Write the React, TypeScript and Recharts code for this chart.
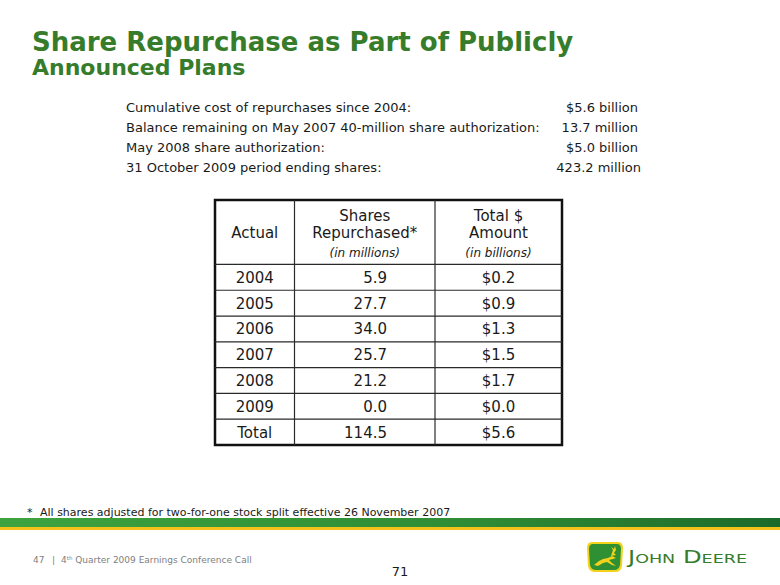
import React from 'react';
import { ScatterChart, Scatter, XAxis, YAxis, ReferenceLine, ReferenceArea } from 'recharts';

// ---- data ----
const years = ['2004', '2005', '2006', '2007', '2008', '2009', 'Total'];
const sharesRepurchased = [5.9, 27.7, 34.0, 25.7, 21.2, 0.0, 114.5];
const totalAmount = [0.2, 0.9, 1.3, 1.5, 1.7, 0.0, 5.6];

const headerLines = [
  { col: 0, line: 1, text: 'Actual', italic: false },
  { col: 1, line: 0, text: 'Shares', italic: false },
  { col: 1, line: 1, text: 'Repurchased*', italic: false },
  { col: 1, line: 2, text: '(in millions)', italic: true },
  { col: 2, line: 0, text: 'Total $', italic: false },
  { col: 2, line: 1, text: 'Amount', italic: false },
  { col: 2, line: 2, text: '(in billions)', italic: true },
];

const summaryLabels = [
  'Cumulative cost of repurchases since 2004:',
  'Balance remaining on May 2007 40-million share authorization:',
  'May 2008 share authorization:',
  '31 October 2009 period ending shares:',
];
const summaryValues = ['$5.6 billion', '13.7 million', '$5.0 billion', '423.2 million'];

// ---- layout (not data) ----
const FONT = '"DejaVu Sans", Verdana, sans-serif';
const GREEN = '#367C2B';
const TABLE_W = 347; // x units
const COL_BOUNDS = [0, 79.5, 220, TABLE_W];
const COL_ANCHOR = [39.75, 172, 283.5];
const COL_TEXT_ANCHOR: ('middle' | 'end')[] = ['middle', 'end', 'middle'];
const HEADER_ROWS = 2.5;
const TOTAL_ROWS = HEADER_ROWS + years.length;
const HEADER_LINE_Y = [0.62, 1.28, 2.05];

type Cell = { x: number; y: number; text: string; anchor: 'middle' | 'end'; italic: boolean; size: number };

const bodyCells: Cell[] = years.flatMap((yr, i) => {
  const rowY = HEADER_ROWS + i + 0.5;
  return [
    { x: COL_ANCHOR[0], y: rowY, text: yr, anchor: COL_TEXT_ANCHOR[0], italic: false, size: 15 },
    { x: COL_ANCHOR[1], y: rowY, text: sharesRepurchased[i].toFixed(1), anchor: COL_TEXT_ANCHOR[1], italic: false, size: 15 },
    { x: COL_ANCHOR[2], y: rowY, text: '$' + totalAmount[i].toFixed(1), anchor: COL_TEXT_ANCHOR[2], italic: false, size: 15 },
  ];
});

const headerCells: Cell[] = headerLines.map((h) => ({
  x: h.col === 0 ? COL_ANCHOR[0] : (COL_BOUNDS[h.col] + COL_BOUNDS[h.col + 1]) / 2,
  y: HEADER_LINE_Y[h.line],
  text: h.text,
  anchor: 'middle',
  italic: h.italic,
  size: h.italic ? 12 : 15,
}));

const CellText = (props: any) => {
  const { cx, cy, payload } = props;
  if (cx == null || cy == null) return null;
  const p = payload as Cell;
  return (
    <text
      x={cx}
      y={cy + p.size * 0.36}
      textAnchor={p.anchor}
      fontFamily={FONT}
      fontSize={p.size}
      fontStyle={p.italic ? 'italic' : 'normal'}
      fill="#1a1a1a"
    >
      {p.text}
    </text>
  );
};

const rowBoundaries = Array.from({ length: years.length }, (_, i) => HEADER_ROWS + i);

const Table = () => (
  <ScatterChart width={351} height={249} margin={{ top: 2, right: 2, bottom: 2, left: 2 }}>
    <XAxis type="number" dataKey="x" domain={[0, TABLE_W]} hide allowDataOverflow />
    <YAxis type="number" dataKey="y" domain={[0, TOTAL_ROWS]} hide reversed allowDataOverflow />
    <ReferenceArea x1={0} x2={TABLE_W} y1={0} y2={TOTAL_ROWS} fill="#ffffff" fillOpacity={1} stroke="none" />
    {rowBoundaries.map((b) => (
      <ReferenceLine key={'h' + b} y={b} stroke="#2a2a2a" strokeWidth={1.2} />
    ))}
    {COL_BOUNDS.slice(1, -1).map((b) => (
      <ReferenceLine key={'v' + b} x={b} stroke="#2a2a2a" strokeWidth={1.2} />
    ))}
    <ReferenceArea x1={0} x2={TABLE_W} y1={0} y2={TOTAL_ROWS} fill="none" stroke="#111" strokeWidth={2.5} />
    <Scatter data={headerCells} shape={CellText} isAnimationActive={false} />
    <Scatter data={bodyCells} shape={CellText} isAnimationActive={false} />
  </ScatterChart>
);

const Deer = () => (
  <g>
    <defs>
      <linearGradient id="jdbar" x1="0" x2="1" y1="0" y2="0">
        <stop offset="0" stopColor="#3da33f" />
        <stop offset="0.6" stopColor="#2f8c35" />
        <stop offset="1" stopColor="#1c6a2a" />
      </linearGradient>
    </defs>
    <path d="M592,542 L618,542 Q623,542 623,548 L622,566 Q621,572 615,572 L595,572 Q589,572 588,566 L587,548 Q587,542 592,542 Z" fill="#f2d21b" />
    <path d="M593,544 L617,544 Q621,544 621,549 L620,565 Q619,570 614,570 L596,570 Q591,570 590,565 L589,549 Q589,544 593,544 Z" fill="#2f8f33" />
    <path d="M594,565 L599,561 L603,559 L608,558 L612,556 L616,558 L613,559 L609,560 L612,563 L616,566 L612,565 L607,562 L603,563 L598,566 Z" fill="#f2d21b" />
    <path d="M611,556 L613,550 L611,547 L614,549 L615,546 L616,550 L614,553 L616,555 Z" fill="#f2d21b" />
  </g>
);

export default function App() {
  return (
    <div style={{ position: 'absolute', left: 0, top: 0, width: 780, height: 585, background: '#fff', overflow: 'hidden' }}>
      <svg width={780} height={585} style={{ position: 'absolute', left: 0, top: 0 }}>
        <text x={32} y={51} fontFamily={FONT} fontWeight="bold" fontSize={26} fill={GREEN}>
          Share Repurchase as Part of Publicly
        </text>
        <text x={32} y={75} fontFamily={FONT} fontWeight="bold" fontSize={22} fill={GREEN}>
          Announced Plans
        </text>
        {summaryLabels.map((s, i) => (
          <text key={s} x={126} y={112 + i * 20} fontFamily={FONT} fontSize={13} fill="#1a1a1a">
            {s}
          </text>
        ))}
        {summaryValues.map((s, i) => (
          <text key={s} x={i === 3 ? 641 : 638} y={112 + i * 20} textAnchor="end" fontFamily={FONT} fontSize={13} fill="#1a1a1a">
            {s}
          </text>
        ))}
        <text x={27} y={516} fontFamily={FONT} fontSize={11} fill="#1a1a1a">*</text>
        <text x={40} y={516} fontFamily={FONT} fontSize={11} fill="#1a1a1a">
          All shares adjusted for two-for-one stock split effective 26 November 2007
        </text>
        <rect x={0} y={518} width={780} height={9} fill="url(#jdbar)" />
        <rect x={0} y={527} width={780} height={3} fill="#f5c21b" />
        <text x={33} y={563} fontFamily={FONT} fontSize={9} fill="#808080">47</text>
        <text x={52} y={563} fontFamily={FONT} fontSize={9} fill="#808080">|</text>
        <text x={61} y={563} fontFamily={FONT} fontSize={9} fill="#808080">
          4<tspan fontSize={5.5} dy={-3.5}>th</tspan>
          <tspan dy={3.5}> Quarter 2009 Earnings Conference Call</tspan>
        </text>
        <text x={400} y={576} textAnchor="middle" fontFamily={FONT} fontSize={13} fill="#1a1a1a">71</text>
        <Deer />
        <text x={628} y={563} fontFamily={FONT} fontSize={18} fill={GREEN} style={{ fontVariant: 'small-caps' }} textLength={119} lengthAdjust="spacingAndGlyphs">
          John Deere
        </text>
      </svg>
      <div style={{ position: 'absolute', left: 213, top: 198 }}>
        <Table />
      </div>
    </div>
  );
}
